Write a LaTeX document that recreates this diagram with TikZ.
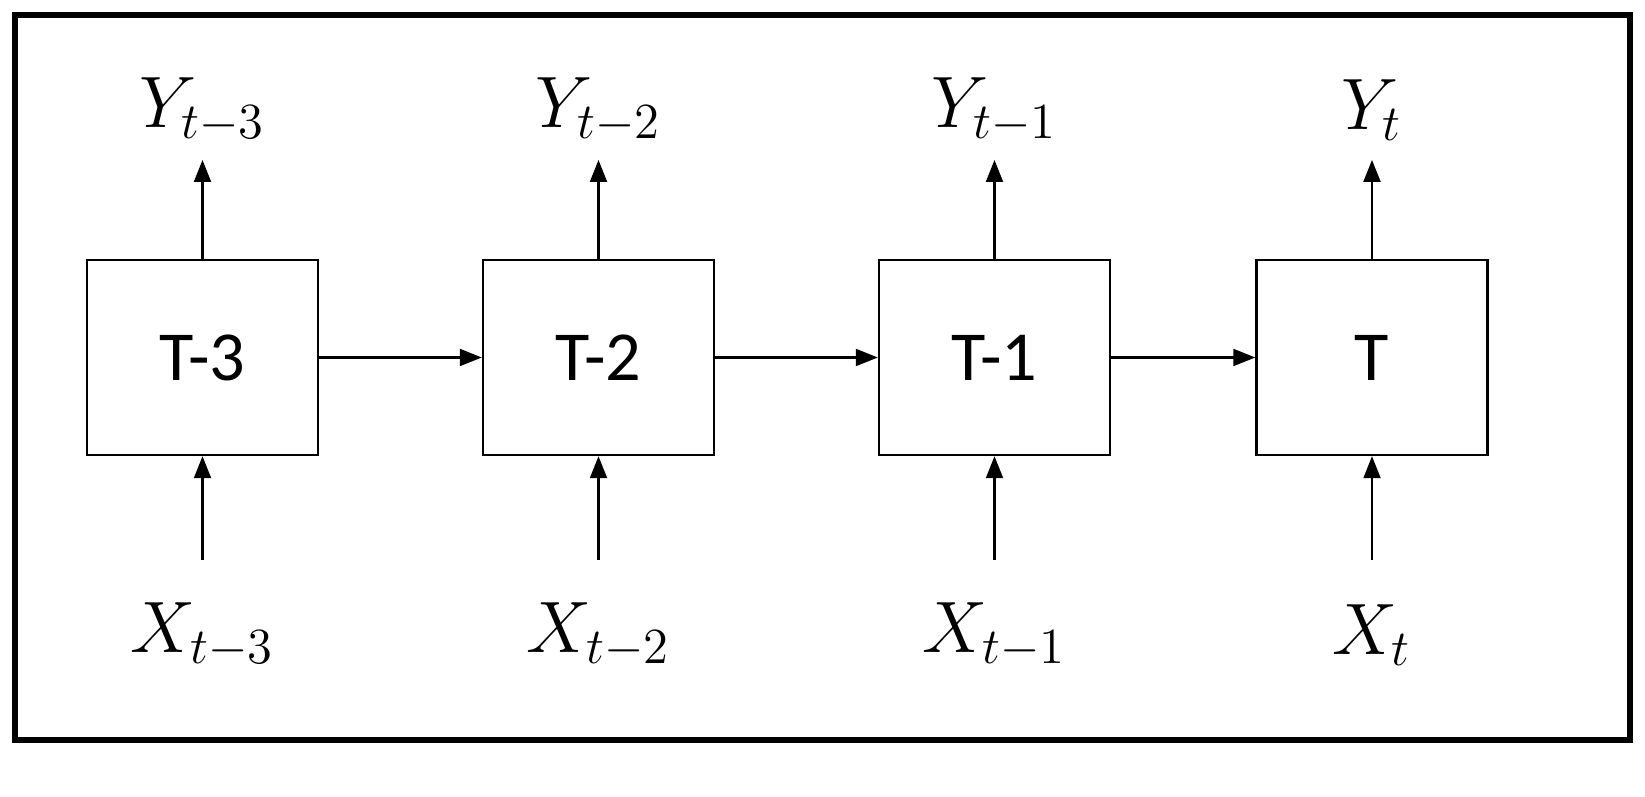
\documentclass[tikz,border=0pt]{standalone}
\usepackage{fontspec}
\newfontfamily\boxfont{Carlito}
\usetikzlibrary{arrows.meta}
\tikzset{
  cell/.style={draw,line width=0.7pt,minimum width=2.31cm,minimum height=1.95cm,inner sep=0pt,font=\boxfont\fontsize{20}{24}\selectfont},
  lbl/.style={inner sep=0pt,font=\fontsize{21}{25}\selectfont},
  flow/.style={line width=0.6pt,-{Triangle[length=0.22cm,width=0.17cm]}}
}
\begin{document}
\begin{tikzpicture}
    \useasboundingbox (0,0) rectangle (16.45,7.97);
    %Frame
    \draw[line width=1.5pt] (0.15,0.57) rectangle (16.30,7.82);
    %Cells
    \node[cell] (c3) at (2.025,4.395) {T-3};
    \node[cell] (c2) at (5.985,4.395) {T-2};
    \node[cell] (c1) at (9.945,4.395) {T-1};
    \node[cell] (c0) at (13.72,4.395) {T};
    %Outputs
    \node[lbl] (y3) at (2.025,6.87) {$Y_{t-3}$};
    \node[lbl] (y2) at (5.985,6.87) {$Y_{t-2}$};
    \node[lbl] (y1) at (9.945,6.87) {$Y_{t-1}$};
    \node[lbl] (y0) at (13.72,6.87) {$Y_{t}$};
    \coordinate (u3) at (2.025,6.37);
    \coordinate (u2) at (5.985,6.37);
    \coordinate (u1) at (9.945,6.37);
    \coordinate (u0) at (13.72,6.37);
    \draw[flow] (c3.north) -- (u3);
    \draw[flow] (c2.north) -- (u2);
    \draw[flow] (c1.north) -- (u1);
    \draw[flow] (c0.north) -- (u0);
    %Inputs
    \node[lbl] (x3) at (2.025,1.62) {$X_{t-3}$};
    \node[lbl] (x2) at (5.985,1.62) {$X_{t-2}$};
    \node[lbl] (x1) at (9.945,1.62) {$X_{t-1}$};
    \node[lbl] (x0) at (13.72,1.62) {$X_{t}$};
    \coordinate (d3) at (2.025,2.37);
    \coordinate (d2) at (5.985,2.37);
    \coordinate (d1) at (9.945,2.37);
    \coordinate (d0) at (13.72,2.37);
    \draw[flow] (d3) -- (c3.south);
    \draw[flow] (d2) -- (c2.south);
    \draw[flow] (d1) -- (c1.south);
    \draw[flow] (d0) -- (c0.south);
    %Chain
    \draw[flow] (c3) -- (c2);
    \draw[flow] (c2) -- (c1);
    \draw[flow] (c1) -- (c0);
\end{tikzpicture}
\end{document}
